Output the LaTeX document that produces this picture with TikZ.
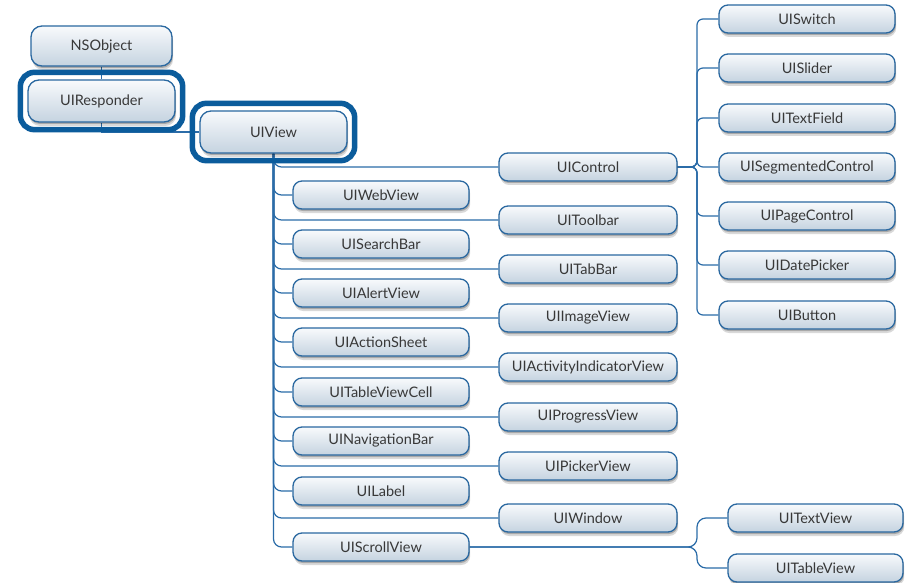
\documentclass[tikz,border=0pt]{standalone}
\usepackage{fontspec}
\setmainfont{Lato}
\usetikzlibrary{shadows,fit}
\pgfdeclarelayer{bottom}
\pgfdeclarelayer{background}
\pgfsetlayers{bottom,background,main}
\definecolor{bord}{HTML}{2A68A0}
\definecolor{hl}{HTML}{0B5C9C}
\definecolor{conncol}{HTML}{2B6CA8}
\definecolor{topc}{HTML}{F8FAFC}
\definecolor{botc}{HTML}{C5D3E0}
\definecolor{txt}{HTML}{383838}
\begin{document}
\begin{tikzpicture}[x=1pt,y=-1pt,
  shade1/.style={drop shadow={shadow xshift=0.8pt, shadow yshift=-2pt, opacity=0.22, fill=black}},
  shade2/.style={drop shadow={shadow xshift=1.2pt, shadow yshift=-4pt, opacity=0.15, fill=black}},
  cls/.style={draw=bord, line width=1.3pt, rounded corners=9pt, top color=topc, bottom color=botc,
    text=txt, font=\fontsize{14.5}{16}\selectfont, minimum height=28pt, inner sep=0pt,
    shade2, shade1},
  lcol/.style={cls, minimum width=176pt},
  rcol/.style={cls, minimum width=178pt},
  big/.style={cls, minimum width=147pt, minimum height=42pt, rounded corners=11pt},
  ring/.style={draw=hl, line width=5.5pt, rounded corners=14pt, inner sep=7pt},
  conn/.style={draw=conncol, line width=1.2pt, rounded corners=8pt}
]
\useasboundingbox (0,0) rectangle (908,583);
\begin{pgfonlayer}{bottom}
\fill[white] (0,0) rectangle (908,583);
\end{pgfonlayer}

\node[big, minimum width=141pt, minimum height=40pt] (nsobject) at (101.5,46) {NSObject};
\node[big] (responder) at (101.5,101) {UIResponder};
\node[big] (uiview) at (273.5,132) {UIView};

% left column
\node[lcol] (webview) at (381,195) {UIWebView};
\node[lcol] (searchbar) at (381,244) {UISearchBar};
\node[lcol] (alertview) at (381,293) {UIAlertView};
\node[lcol] (actionsheet) at (381,342) {UIActionSheet};
\node[lcol] (tableviewcell) at (381,392) {UITableViewCell};
\node[lcol] (navbar) at (381,441) {UINavigationBar};
\node[lcol] (label) at (381,491) {UILabel};
\node[lcol] (scrollview) at (381,547) {UIScrollView};

% right column
\node[rcol] (control) at (588,167) {UIControl};
\node[rcol] (toolbar) at (588,220) {UIToolbar};
\node[rcol] (tabbar) at (588,269) {UITabBar};
\node[rcol] (imageview) at (588,318) {UIImageView};
\node[rcol] (activity) at (588,367) {UIActivityIndicatorView};
\node[rcol] (progress) at (588,417) {UIProgressView};
\node[rcol] (picker) at (588,466) {UIPickerView};
\node[rcol] (window) at (588,518) {UIWindow};

% control subclasses
\node[lcol] (switch) at (807,19) {UISwitch};
\node[lcol] (slider) at (807,68) {UISlider};
\node[lcol] (textfield) at (807,118) {UITextField};
\node[lcol] (segmented) at (807,167) {UISegmentedControl};
\node[lcol] (pagecontrol) at (807,216) {UIPageControl};
\node[lcol] (datepicker) at (807,265) {UIDatePicker};
\node[lcol] (button) at (807,315) {UIButton};

% scrollview subclasses
\node[cls, minimum width=175pt] (textview) at (815.5,518) {UITextView};
\node[cls, minimum width=175pt] (tableview) at (815.5,568) {UITableView};

% highlight rings
\node[ring, fit=(responder)] (responderring) {};
\node[ring, fit=(uiview)] (uiviewring) {};

\coordinate (cbus) at (697,167);
\coordinate (sbus) at (697,547);

\begin{pgfonlayer}{background}
  \draw[conn] (nsobject.south) -- (responder.north);
  \draw[conn, rounded corners=0pt] (responder.south) |- (uiview.west);
  \foreach \n in {webview,searchbar,alertview,actionsheet,tableviewcell,navbar,label,scrollview,
                  control,toolbar,tabbar,imageview,activity,progress,picker,window}
    \draw[conn] (uiview.south) |- (\n.west);
  \foreach \n in {switch,slider,textfield,segmented,pagecontrol,datepicker,button}
    \draw[conn, rounded corners=6pt] (control.east) -- (cbus) |- (\n.west);
  \foreach \n in {textview,tableview}
    \draw[conn, rounded corners=9pt] (scrollview.east) -- (sbus) |- (\n.west);
\end{pgfonlayer}
\end{tikzpicture}
\end{document}
